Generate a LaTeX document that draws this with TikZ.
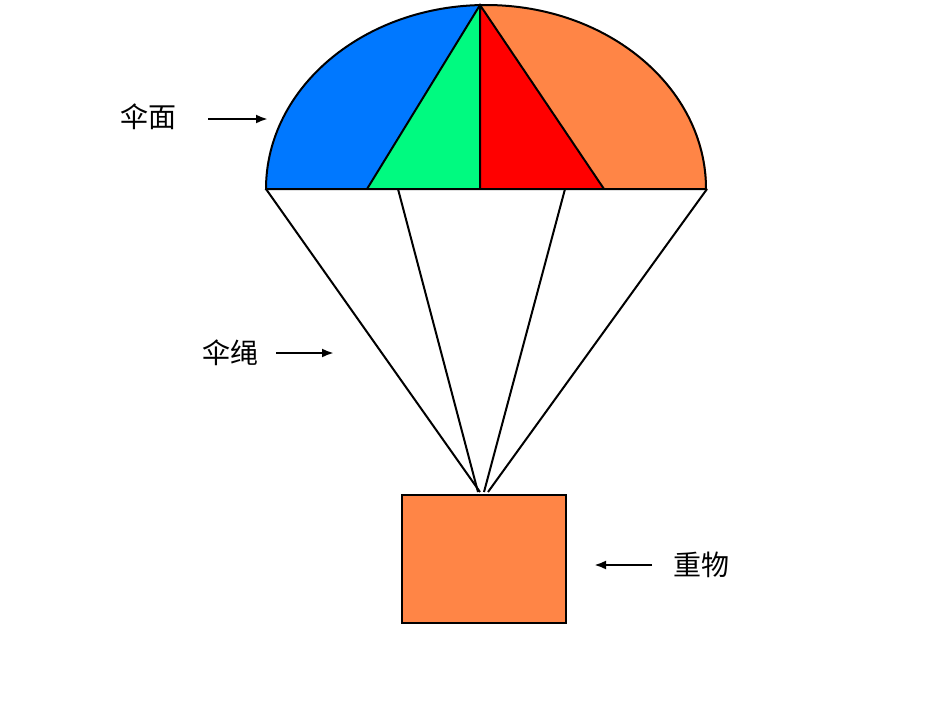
\documentclass[tikz,border=0pt]{standalone}
\usepackage{fontspec}
\usetikzlibrary{arrows.meta}
\newfontfamily\cjk{Noto Sans CJK SC}
\definecolor{cblue}{RGB}{0,120,255}
\definecolor{cgreen}{RGB}{0,250,128}
\definecolor{cred}{RGB}{255,0,0}
\definecolor{corange}{RGB}{255,133,70}
\tikzset{lbl/.style={font=\cjk\fontsize{28}{30}\selectfont,inner sep=0pt},
 arr/.style={-{Latex[length=12pt,width=9pt]},line width=2.5pt},
 rope/.style={line width=2pt},
 sect/.style={draw=black,line width=2pt}}
\begin{document}
\begin{tikzpicture}[x=1pt,y=-1pt]
\useasboundingbox (0,0) rectangle (950,713);
\coordinate (L) at (266,189);
\coordinate (R) at (707,189);
\coordinate (A) at (480,5);
\coordinate (B) at (367,189);
\coordinate (M) at (480,189);
\coordinate (C) at (604,189);
\fill[cblue] (L) arc[x radius=220,y radius=184,start angle=180,end angle=268.3] -- (B) -- cycle;
\fill[corange] (R) arc[x radius=220,y radius=184,start angle=360,end angle=268.3] -- (C) -- cycle;
\fill[cgreen] (B) -- (A) -- (M) -- cycle;
\fill[cred] (M) -- (A) -- (C) -- cycle;
\draw[sect] (L) arc[x radius=220,y radius=184,start angle=180,end angle=360] -- cycle;
\draw[sect] (B) -- (A) -- (C) (A) -- (M);
\node[draw=black,fill=corange,line width=2pt,minimum width=164pt,minimum height=128pt,inner sep=0pt,anchor=north west] (box) at (401,494) {};
\coordinate (s1) at (398,189);
\coordinate (s2) at (565,189);
\draw[rope] (L) -- (480,492);
\draw[rope] (s1) -- (478,492);
\draw[rope] (s2) -- (484,492);
\draw[rope] (R) -- (488,492);
\node[lbl] (t1) at (148,117) {伞面};
\draw[arr] (208,119) -- (268,119);
\node[lbl] (t2) at (230,353) {伞绳};
\draw[arr] (276,353) -- (334,353);
\node[lbl] (t3) at (701,565) {重物};
\draw[arr] (652,565) -- (594,565);
\end{tikzpicture}
\end{document}
